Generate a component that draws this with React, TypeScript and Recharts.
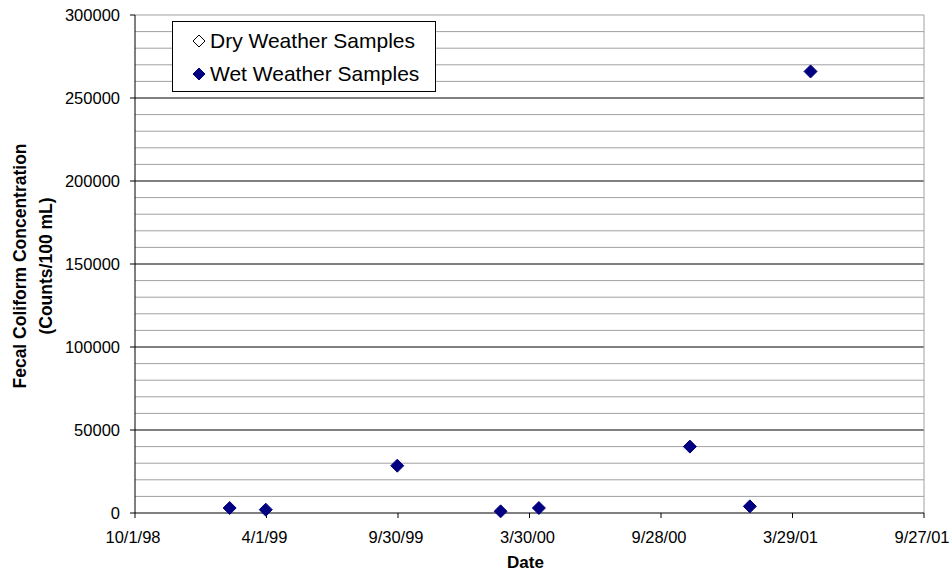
import React from 'react';
import { ScatterChart, Scatter, XAxis, YAxis, ReferenceLine, Legend } from 'recharts';

const dryDates: string[] = [];
const dryValues: number[] = [];
const wetDates = ['2/9/99', '3/31/99', '9/29/99', '2/19/00', '4/12/00', '11/7/00', '1/29/01', '4/23/01'];
const wetValues = [3000, 2000, 28500, 1000, 3000, 40000, 4000, 266000];
const xTickLabels = ['10/1/98', '4/1/99', '9/30/99', '3/30/00', '9/28/00', '3/29/01', '9/27/01'];
const yTicks = [0, 50000, 100000, 150000, 200000, 250000, 300000];
const minorGrid = [10000, 20000, 30000, 40000, 60000, 70000, 80000, 90000, 110000, 120000, 130000, 140000, 160000, 170000, 180000, 190000, 210000, 220000, 230000, 240000, 260000, 270000, 280000, 290000, 300000];
const majorGrid = [50000, 100000, 150000, 200000, 250000];

const toDay = (s: string) => {
  const [m, d, y] = s.split('/').map(Number);
  const year = y < 50 ? 2000 + y : 1900 + y;
  return Date.UTC(year, m - 1, d) / 86400000;
};
const fmtDay = (v: number) => {
  const dt = new Date(v * 86400000);
  const yy = String(dt.getUTCFullYear() % 100).padStart(2, '0');
  return `${dt.getUTCMonth() + 1}/${dt.getUTCDate()}/${yy}`;
};

const xTicks = xTickLabels.map(toDay);
const xStart = xTicks[0];
const xEnd = xTicks[xTicks.length - 1];
const wetData = wetDates.map((d, i) => ({ day: toDay(d), value: wetValues[i] }));
const dryData = dryDates.map((d, i) => ({ day: toDay(d), value: dryValues[i] }));

const FONT = '"Liberation Sans", Arial, sans-serif';
const NAVY = '#000080';

const Diamond = (props: any) => {
  const { cx, cy, fill, stroke } = props;
  if (cx == null || cy == null) return null;
  const r = 6.5;
  return <path d={`M${cx},${cy - r}L${cx + r},${cy}L${cx},${cy + r}L${cx - r},${cy}Z`} fill={fill} stroke={stroke} />;
};

const XTick = (props: any) => {
  const { x, y, payload } = props;
  return (
    <text x={x - 2} y={y + 6} textAnchor="middle" dominantBaseline="central" fontFamily={FONT} fontSize={16.5} fill="#000">
      {fmtDay(payload.value)}
    </text>
  );
};

const LegendBox = () => (
  <div style={{ boxSizing: 'border-box', width: 264, height: 71, border: '1px solid #000', background: '#fff', paddingTop: 2, fontFamily: FONT, fontSize: 21, color: '#000' }}>
    {[
      { name: 'Dry Weather Samples', fill: '#fff', stroke: '#000' },
      { name: 'Wet Weather Samples', fill: NAVY, stroke: NAVY },
    ].map((e) => (
      <div key={e.name} style={{ height: 33, display: 'flex', alignItems: 'center', whiteSpace: 'nowrap' }}>
        <svg width={14} height={14} style={{ marginLeft: 19, marginRight: 4 }}>
          <path d="M7,1L13,7L7,13L1,7Z" fill={e.fill} stroke={e.stroke} strokeWidth={1} />
        </svg>
        <span>{e.name}</span>
      </div>
    ))}
  </div>
);

const YTitle = (props: any) => {
  const vb = props.viewBox || {};
  const cy = vb.y + vb.height / 2 + 2;
  return (
    <g fontFamily={FONT} fontWeight="bold" fontSize={17.5} fill="#000">
      <text x={20} y={cy} transform={`rotate(-90 20 ${cy})`} textAnchor="middle" dominantBaseline="central">Fecal Coliform Concentration</text>
      <text x={46} y={cy} transform={`rotate(-90 46 ${cy})`} textAnchor="middle" dominantBaseline="central">(Counts/100 mL)</text>
    </g>
  );
};

const XTitle = (props: any) => {
  const vb = props.viewBox || {};
  return (
    <text x={vb.x + vb.width / 2 - 4} y={562} textAnchor="middle" dominantBaseline="central" fontFamily={FONT} fontWeight="bold" fontSize={17} fill="#000">Date</text>
  );
};

export default function App() {
  return (
    <div style={{ width: 951, height: 574 }}>
      <style>{'html, body { margin: 0; padding: 0; }'}</style>
      <ScatterChart width={951} height={574} margin={{ top: 15, right: 27, bottom: 0, left: 0 }}>
        {minorGrid.map((v) => (
          <ReferenceLine key={'m' + v} y={v} stroke="#a0a0a0" strokeWidth={1} />
        ))}
        {majorGrid.map((v) => (
          <ReferenceLine key={'M' + v} y={v} stroke="#000" strokeWidth={1} />
        ))}
        <ReferenceLine x={xEnd} stroke="#a0a0a0" strokeWidth={1} />
        <XAxis
          type="number"
          dataKey="day"
          domain={[xStart, xEnd]}
          ticks={xTicks}
          tickFormatter={fmtDay}
          interval={0}
          height={61}
          tickSize={5}
          tickMargin={13}
          axisLine={{ stroke: '#000' }}
          tickLine={{ stroke: '#000' }}
          tick={<XTick />}
          label={<XTitle />}
        />
        <YAxis
          type="number"
          dataKey="value"
          domain={[0, 300000]}
          ticks={yTicks}
          interval={0}
          width={135}
          tickSize={5}
          tickMargin={10}
          axisLine={{ stroke: '#000' }}
          tickLine={{ stroke: '#000' }}
          tick={{ fontFamily: FONT, fontSize: 16.5, fill: '#000' }}
          label={<YTitle />}
        />
        <Scatter name="Dry Weather Samples" data={dryData} fill="#fff" stroke="#000" shape={<Diamond />} isAnimationActive={false} />
        <Scatter name="Wet Weather Samples" data={wetData} fill={NAVY} stroke={NAVY} shape={<Diamond />} isAnimationActive={false} />
        <Legend
          layout="vertical"
          align="center"
          verticalAlign="middle"
          content={<LegendBox />}
          wrapperStyle={{ position: 'absolute', left: 172, top: 21, width: 264, height: 71 }}
        />
      </ScatterChart>
    </div>
  );
}
